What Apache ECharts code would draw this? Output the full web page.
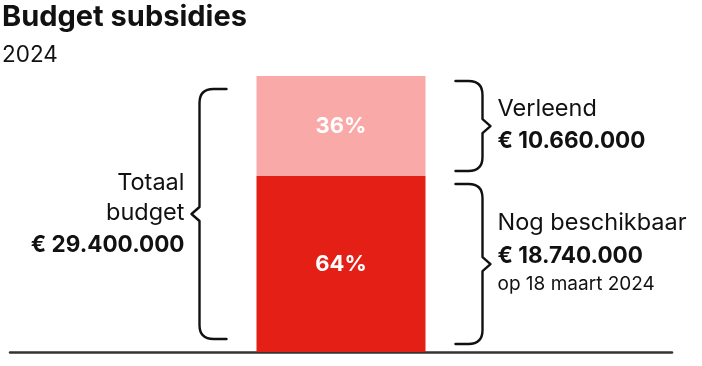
<!DOCTYPE html>
<html>
<head>
<meta charset="utf-8">
<script src="https://cdn.jsdelivr.net/npm/echarts@6/dist/echarts.min.js"></script>
<style>
html,body{margin:0;padding:0;background:#fff;}
#chart{width:702px;height:366px;}
</style>
</head>
<body>
<div id="chart"></div>
<script>
// ---- data ----
const titleText = 'Budget subsidies';
const subtitleText = '2024';
const categories = ['2024'];
const seriesNames = ['Nog beschikbaar', 'Verleend'];
const nogBeschikbaar = [18740000];
const verleend = [10660000];
const totalLabel = ['Totaal', 'budget'];
const verleendLabel = ['Verleend'];
const nogLabel = ['Nog beschikbaar'];
const nogNote = 'op 18 maart 2024';

const total = nogBeschikbaar[0] + verleend[0];
function euro(v) {
  return '€ ' + String(v).replace(/\B(?=(\d{3})+(?!\d))/g, '.');
}
function pct(v) { return Math.round(v / total * 100) + '%'; }

// braces: [category, yStart, yEnd, side]
const braces = [
  [0, 0, total, -1],
  [0, nogBeschikbaar[0], total, 1],
  [0, 0, nogBeschikbaar[0], 1]
];
const REG = 23.5, BOLD = 22.5, SMALL = 19;
const braceTexts = [
  [ {t: totalLabel[0], dy: -31, bold: false, size: REG},
    {t: totalLabel[1], dy: -1, bold: false, size: REG},
    {t: euro(total), dy: 31, bold: true, size: BOLD} ],
  [ {t: verleendLabel[0], dy: -17, bold: false, size: REG},
    {t: euro(verleend[0]), dy: 15, bold: true, size: BOLD} ],
  [ {t: nogLabel[0], dy: -41, bold: false, size: REG},
    {t: euro(nogBeschikbaar[0]), dy: -8, bold: true, size: BOLD},
    {t: nogNote, dy: 20, bold: false, size: SMALL} ]
];

const FONT = 'Inter';
const BAR_W = 169;
const chart = echarts.init(document.getElementById('chart'), null, {renderer: 'canvas'});

function renderBrace(params, api) {
  const idx = params.dataIndex;
  const side = api.value(3);
  const pTop = api.coord([api.value(0), api.value(2)]);
  const pBot = api.coord([api.value(0), api.value(1)]);
  const cx = pTop[0];
  const inset = side < 0 ? 13 : (idx === 1 ? 5 : 8);
  const y0 = pTop[1] + inset;
  const y1 = pBot[1] - inset;
  const ym = (y0 + y1) / 2;
  const xEnd = cx + side * (BAR_W / 2 + 30);
  const xV = xEnd + side * 27;
  const xTip = xV + side * 8;
  const r = 14;
  const path = [
    'M', xEnd, y0,
    'L', xV - side * r, y0,
    'Q', xV, y0, xV, y0 + r,
    'L', xV, ym - 7,
    'L', xTip, ym,
    'L', xV, ym + 7,
    'L', xV, y1 - r,
    'Q', xV, y1, xV - side * r, y1,
    'L', xEnd, y1
  ].join(' ');
  const children = [{
    type: 'path',
    shape: {pathData: path},
    style: {fill: 'none', stroke: '#111', lineWidth: 2.4, lineCap: 'round', lineJoin: 'round'}
  }];
  braceTexts[idx].forEach(function (ln) {
    children.push({
      type: 'text',
      x: xTip + side * 7,
      y: ym + ln.dy,
      style: {
        text: ln.t,
        fill: '#111',
        font: (ln.bold ? 'bold ' : '') + ln.size + 'px ' + FONT,
        align: side < 0 ? 'right' : 'left',
        verticalAlign: 'middle'
      }
    });
  });
  return {type: 'group', children: children};
}

chart.setOption({
  animation: false,
  title: {
    text: titleText,
    subtext: subtitleText,
    left: 0, top: 1,
    padding: [2, 2, 2, 2],
    itemGap: 12,
    textStyle: {fontFamily: FONT, fontWeight: 'bold', fontSize: 29, color: '#111'},
    subtextStyle: {fontFamily: FONT, fontSize: 22.5, color: '#111'}
  },
  grid: {left: 10, right: 30, top: 76, bottom: 14, containLabel: false},
  xAxis: {
    type: 'category',
    data: categories,
    axisLine: {lineStyle: {color: '#333', width: 2.5}},
    axisTick: {show: false},
    axisLabel: {show: false}
  },
  yAxis: {
    type: 'value',
    min: 0, max: total,
    show: false,
    splitLine: {show: false}
  },
  series: [
    {
      name: seriesNames[0], type: 'bar', stack: 'b', barWidth: BAR_W,
      data: nogBeschikbaar,
      itemStyle: {color: '#e41f16'},
      label: {show: true, position: 'inside', formatter: function (p) { return pct(p.value); },
        color: '#fff', fontFamily: FONT, fontWeight: 'bold', fontSize: 22}
    },
    {
      name: seriesNames[1], type: 'bar', stack: 'b', barWidth: BAR_W,
      data: verleend,
      itemStyle: {color: '#f9a9a8'},
      label: {show: true, position: 'inside', formatter: function (p) { return pct(p.value); },
        color: '#fff', fontFamily: FONT, fontWeight: 'bold', fontSize: 22}
    },
    {
      type: 'custom',
      renderItem: renderBrace,
      data: braces,
      encode: {x: 0, y: [1, 2]},
      silent: true,
      z: 5
    }
  ]
});
</script>
</body>
</html>
